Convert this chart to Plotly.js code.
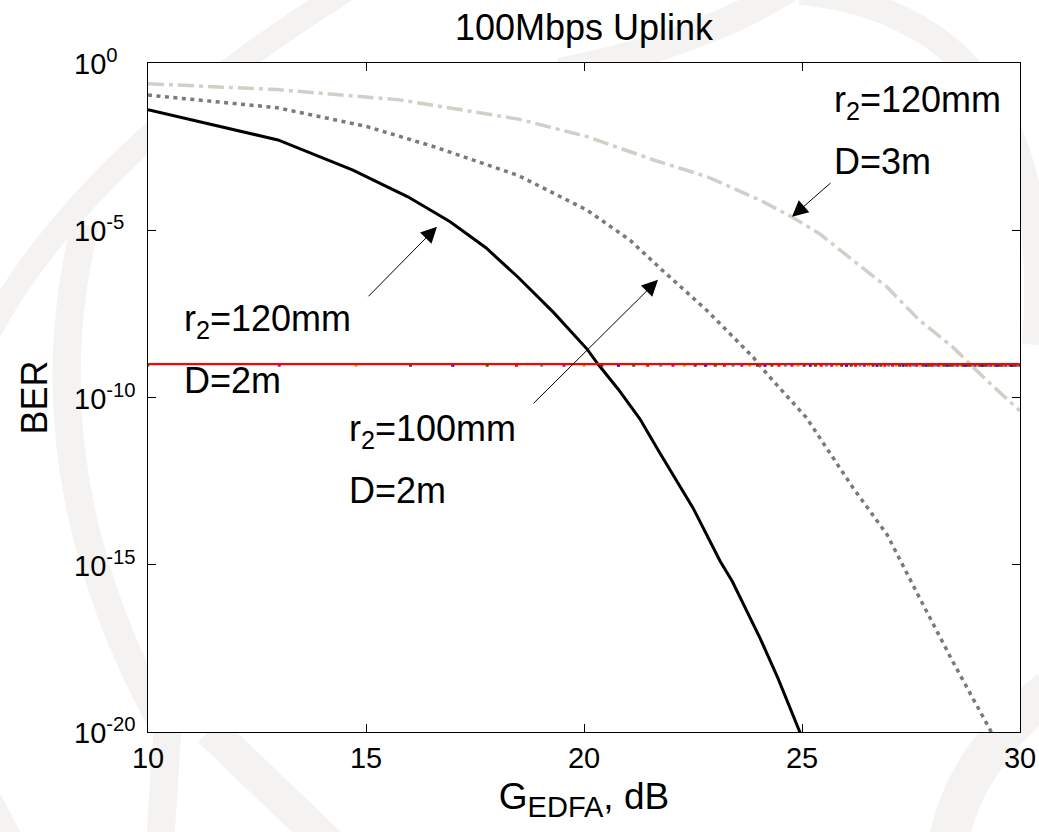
<!DOCTYPE html>
<html>
<head>
<meta charset="utf-8">
<script src="https://cdn.plot.ly/plotly-3.0.1.min.js"></script>
<style>
  html, body { margin: 0; padding: 0; background: #ffffff; }
  #chart { width: 1039px; height: 832px; }
</style>
</head>
<body>
<div id="chart"></div>
<script>
// ---------------- data ----------------
const chartTitle = '100Mbps Uplink';
const xTitle = 'G<sub><span style="font-size:29px">EDFA</span></sub>, dB';
const yTitle = 'BER';

const xTickVals = [10, 15, 20, 25, 30];
const xTickText = ['10', '15', '20', '25', '30'];
const yTickVals = [1, 1e-5, 1e-10, 1e-15, 1e-20];
const yTickExp = [0, -5, -10, -15, -20];
const yTickText = ['10<sup>0</sup>', '10<sup>-5</sup>', '10<sup>-10</sup>', '10<sup>-15</sup>', '10<sup>-20</sup>'];

// r2 = 120 mm, D = 2 m  (solid black)
const g120d2 = [10, 12.98, 14.7, 15.96, 16.93, 17.75, 18.5, 19.3, 20.07, 20.32, 20.78, 21.28, 21.74, 22.5, 23.12, 23.4, 24.04, 24.45, 24.98];
const ber120d2 = [4.0e-2, 5.0e-3, 6.3e-4, 1.0e-4, 1.8e-5, 3.0e-6, 3.8e-7, 3.5e-8, 2.8e-9, 1.0e-9, 1.8e-10, 2.3e-11, 2.2e-12, 5.0e-14, 1.3e-15, 3.2e-16, 6.3e-18, 4.0e-19, 8.0e-21];

// r2 = 100 mm, D = 2 m  (dotted grey)
const g100d2 = [10, 12.96, 15.02, 16.54, 18.5, 20.07, 21.06, 21.8, 22.82, 23.88, 24.2, 25.1, 26.17, 26.95, 27.7, 28.46, 29.36, 29.5];
const ber100d2 = [1.1e-1, 4.6e-2, 1.26e-2, 3.2e-3, 4.3e-4, 4.0e-5, 5.0e-6, 6.3e-7, 4.0e-8, 1.6e-9, 5.0e-10, 2.5e-11, 2.0e-13, 8.0e-15, 1.0e-16, 1.26e-18, 9.0e-21, 4.0e-21];

// r2 = 120 mm, D = 3 m  (dash-dot light grey)
const g120d3 = [10, 12.96, 15.78, 18.5, 20.07, 21.6, 22.82, 24.04, 24.77, 25.4, 26.17, 26.95, 27.7, 28.46, 29.24, 30];
const ber120d3 = [2.4e-1, 1.6e-1, 7.9e-2, 2.1e-2, 6.3e-3, 1.26e-3, 4.0e-4, 7.9e-5, 2.5e-5, 7.9e-6, 1.26e-6, 2.0e-7, 2.0e-8, 3.2e-9, 3.2e-10, 4.0e-11];

// BER threshold line
const limitG = [10, 30];
const limitBer = [1e-9, 1e-9];

// small coloured sample dots drawn under the threshold line
const dotG = [10.00, 13.01, 14.77, 16.02, 16.99, 17.78, 18.45, 19.03, 19.54, 20.00,
  20.41, 20.79, 21.14, 21.46, 21.76, 22.04, 22.30, 22.55, 22.79, 23.01,
  23.22, 23.42, 23.62, 23.80, 23.98, 24.15, 24.31, 24.47, 24.62, 24.77,
  24.91, 25.05, 25.19, 25.31, 25.44, 25.56, 25.68, 25.80, 25.91, 26.02,
  26.13, 26.23, 26.33, 26.43, 26.53, 26.63, 26.72, 26.81, 26.90, 26.99,
  27.08, 27.16, 27.24, 27.32, 27.40, 27.48, 27.56, 27.63, 27.71, 27.78,
  27.85, 27.92, 27.99, 28.06, 28.13, 28.20, 28.26, 28.33, 28.39, 28.45,
  28.51, 28.57, 28.63, 28.69, 28.75, 28.81, 28.86, 28.92, 28.98, 29.03,
  29.08, 29.14, 29.19, 29.24, 29.29, 29.34, 29.40, 29.44, 29.49, 29.54,
  29.59, 29.64, 29.68, 29.73, 29.78, 29.82, 29.87, 29.91, 29.96, 30.00];
const dotBer = 9.2e-10;

// curve labels
const labelLines = [
  ['r<sub>2</sub>=120mm', 'D=2m'],
  ['r<sub>2</sub>=100mm', 'D=2m'],
  ['r<sub>2</sub>=120mm', 'D=3m']
];

// ---------------- styling / layout ----------------
const FONT = 'Liberation Sans, Arial, Helvetica, sans-serif';
const dotPalette = ['#00bfbf', '#bf00bf', '#bfbf00', '#404040', '#0000ff', '#008000', '#ff0000'];
const dotColors = dotG.map((_, i) => dotPalette[i % dotPalette.length]);

const traces = [
  { x: g120d3, y: ber120d3, mode: 'lines', line: { color: '#d3cfc8', width: 3.5, dash: '16px,5px,4px,5px' }, hoverinfo: 'skip' },
  { x: g100d2, y: ber100d2, mode: 'lines', line: { color: '#7a7a7a', width: 3.5, dash: '4px,4.5px' }, hoverinfo: 'skip' },
  { x: g120d2, y: ber120d2, mode: 'lines', line: { color: '#000000', width: 3 }, hoverinfo: 'skip' },
  { x: dotG, y: dotG.map(() => dotBer), mode: 'markers', marker: { symbol: 'square', size: 3, color: dotColors }, hoverinfo: 'skip' },
  { x: limitG, y: limitBer, mode: 'lines', line: { color: '#ff0000', width: 2.2 }, hoverinfo: 'skip' }
];

const L = 148, T = 63.3, W = 872, H = 668.7;
const pxToX = px => 10 + (px - L) / W * 20;
const pyToExp = py => -(py - T) / H * 20;
const px2p = px => ((px - L) / W).toFixed(4);
const py2p = py => ((T + H - py) / H).toFixed(4);

const annotations = [];
// y tick labels, left aligned like the original
yTickExp.forEach((e, i) => {
  annotations.push({
    xref: 'paper', yref: 'y', x: (72 - L) / W, y: e,
    xanchor: 'left', yanchor: 'middle', yshift: 1,
    text: yTickText[i], showarrow: false,
    font: { family: FONT, size: 29, color: '#000' }
  });
});
// curve labels
const labelPos = [[182, 321], [347, 431], [832, 102]];
labelPos.forEach((p, i) => {
  annotations.push({
    xref: 'x', yref: 'y', x: pxToX(p[0]), y: pyToExp(p[1]),
    xanchor: 'left', yanchor: 'middle', yshift: 0,
    text: labelLines[i][0], showarrow: false,
    font: { family: FONT, size: 36, color: '#000' }
  });
  annotations.push({
    xref: 'x', yref: 'y', x: pxToX(p[0]), y: pyToExp(p[1] + 60),
    xanchor: 'left', yanchor: 'middle',
    text: labelLines[i][1], showarrow: false,
    font: { family: FONT, size: 36, color: '#000' }
  });
});
// arrows: [head px, head py, tail px, tail py]
const arrows = [[437, 227, 367, 298], [658, 280, 532, 405], [792, 217, 832, 182]];
arrows.forEach(a => {
  annotations.push({
    xref: 'x', yref: 'y', axref: 'x', ayref: 'y',
    x: pxToX(a[0]), y: pyToExp(a[1]), ax: pxToX(a[2]), ay: pyToExp(a[3]),
    text: '', showarrow: true, arrowhead: 2, arrowsize: 3.2, arrowwidth: 1,
    arrowcolor: '#000', standoff: 0, startstandoff: 0
  });
});

// faint background watermark (pixel paths converted to paper units)
const WM = '#f4f3f1';
function pathFrom(cmds) {
  return cmds.map(c => c[0] + ' ' + c.slice(1).reduce((s, v, k) => s + (k % 2 === 0 ? px2p(v) : ',' + py2p(v) + ' '), '')).join(' ');
}
const wmBands = [
  { d: [['M', -10, 330], ['Q', 90, 150, 350, -12]], w: 24 },
  { d: [['M', 85, 225], ['Q', 25, 470, 160, 720]], w: 28 },
  { d: [['M', 168, 720], ['L', 160, 845]], w: 28 },
  { d: [['M', 210, 730], ['L', 330, 845]], w: 34 },
  { d: [['M', -20, 775], ['L', 20, 850]], w: 18 },
  { d: [['M', 560, 72], ['Q', 700, 45, 790, -12]], w: 28 },
  { d: [['M', 800, -8], ['Q', 1060, 20, 1035, 345]], w: 26 },
  { d: [['M', 948, 845], ['Q', 962, 760, 1050, 690]], w: 40 }
];
const shapes = wmBands.map(b => ({
  type: 'path', xref: 'paper', yref: 'paper', layer: 'below',
  path: pathFrom(b.d), line: { color: WM, width: b.w }, fillcolor: 'rgba(0,0,0,0)'
}));
// plot area stays white above the watermark
shapes.push({ type: 'rect', xref: 'paper', yref: 'paper', layer: 'below', x0: 0, x1: 1, y0: 0, y1: 1,
  fillcolor: '#ffffff', line: { width: 0 } });

const axisCommon = {
  showgrid: false, zeroline: false, showline: true, mirror: 'ticks',
  linecolor: '#000', linewidth: 1.2, ticks: 'inside', ticklen: 8,
  tickwidth: 1, tickcolor: '#000'
};

const layout = {
  width: 1039, height: 832,
  margin: { l: L, r: 1039 - L - W, t: T, b: 832 - T - H, pad: 0 },
  paper_bgcolor: '#ffffff', plot_bgcolor: 'rgba(255,255,255,0)',
  showlegend: false,
  font: { family: FONT, color: '#000' },
  title: {
    text: chartTitle, font: { family: FONT, size: 36, color: '#000' },
    x: 0.5, xref: 'paper', xanchor: 'center',
    y: 1 - 27 / 832, yref: 'container', yanchor: 'middle'
  },
  xaxis: Object.assign({}, axisCommon, {
    range: [10, 30], tickvals: xTickVals, ticktext: xTickText,
    tickfont: { family: FONT, size: 29, color: '#000' },
    ticklabelstandoff: 0,
    title: { text: xTitle, font: { family: FONT, size: 37, color: '#000' }, standoff: 10 }
  }),
  yaxis: Object.assign({}, axisCommon, {
    type: 'log', range: [-20, 0], tickvals: yTickVals, showticklabels: false,
    title: { text: yTitle, font: { family: FONT, size: 36, color: '#000' }, standoff: 88 }
  }),
  shapes: shapes,
  annotations: annotations
};

Plotly.newPlot('chart', traces, layout, { staticPlot: true, displayModeBar: false });
</script>
</body>
</html>
